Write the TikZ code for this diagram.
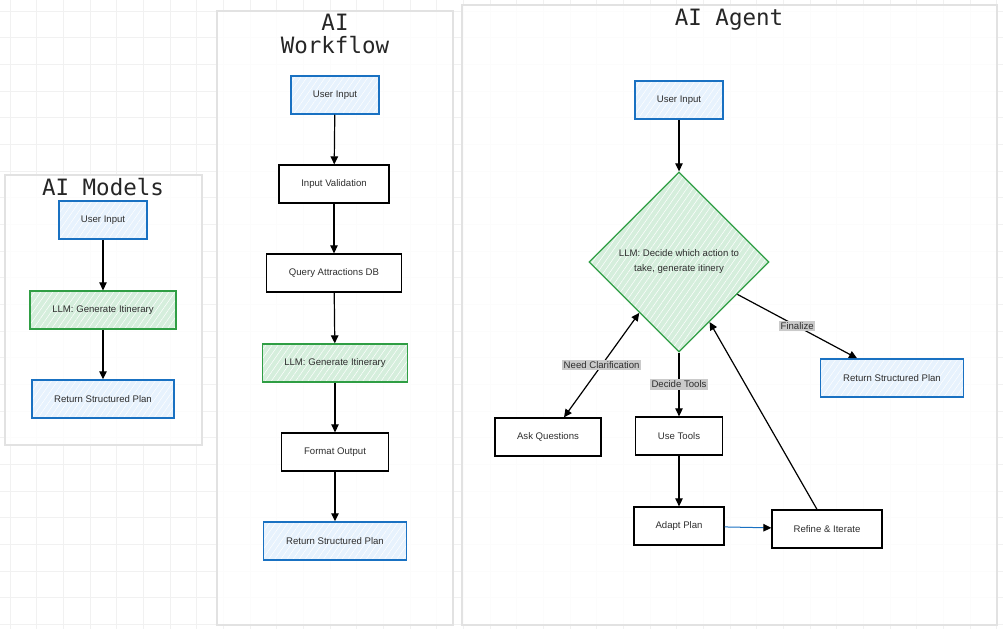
\documentclass[tikz,border=0pt]{standalone}
\usepackage{fontspec}
\setmainfont{Liberation Sans}
\newfontfamily\titlefont{DejaVu Sans Mono}
\usepackage{tikz}
\usetikzlibrary{shapes.geometric}
\usetikzlibrary{positioning}
\usetikzlibrary{arrows.meta}
\usetikzlibrary{patterns.meta}
\usepackage{xcolor}
\definecolor{boxblue}{HTML}{1971C2}
\definecolor{fillblue}{HTML}{E7F2FD}
\definecolor{boxgreen}{HTML}{2F9E44}
\definecolor{fillgreen}{HTML}{D5EEDC}
\definecolor{txtgray}{HTML}{2E2E2E}
\definecolor{panelgray}{HTML}{E2E2E2}
\definecolor{gridgray}{HTML}{F1F1F1}
\definecolor{lblgray}{HTML}{CACACA}

\begin{document}
\begin{tikzpicture}[x=1pt, y=-1pt,
    every node/.style={font=\fontsize{9.6}{11}\selectfont, text=txtgray},
    hatch/.style={preaction={fill=#1}, preaction={pattern={Lines[angle=55,distance=5pt,line width=0.5pt]}, pattern color=white}},
    plainbox/.style={draw=black, rectangle, fill=white, line width=1.3pt, minimum height=38pt, align=center},
    bluebox/.style={plainbox, fill=none, draw=boxblue, line width=1.5pt, hatch=fillblue},
    greenbox/.style={plainbox, fill=none, draw=boxgreen, hatch=fillgreen},
    panel/.style={draw=panelgray, line width=1.2pt, fill=white, fill opacity=0.85},
    title/.style={font=\titlefont\fontsize{22.5}{22.5}\selectfont, text=black!85, anchor=base},
    flow/.style={-{Triangle[length=8pt,width=7.5pt]}, line width=1.2pt},
    both/.style={{Triangle[length=8pt,width=7.5pt]}-{Triangle[length=8pt,width=7.5pt]}, line width=1.2pt},
    lbl/.style={fill=lblgray, inner sep=1.5pt}]
    \useasboundingbox (0,0) rectangle (1003,629);

    % background grid
    \foreach \i in {0,...,37}
        \draw[gridgray, line width=1pt] (10+26.67*\i,0) -- (10+26.67*\i,629);
    \foreach \j in {0,...,23}
        \draw[gridgray, line width=1pt] (0,11+26.67*\j) -- (1003,11+26.67*\j);

    % panels
    \draw[panel] (5,175) rectangle (202,445);
    \draw[panel] (217,11) rectangle (453,625);
    \draw[panel] (462,5) rectangle (997,625);

    % AI Models
    \node[title] (tmodels) at (103,195) {AI Models};
    \node[bluebox, minimum width=88pt] (m_in) at (103,220) {User Input};
    \node[greenbox, minimum width=146pt] (m_llm) at (103,310) {LLM: Generate Itinerary};
    \node[bluebox, minimum width=142pt] (m_ret) at (103,399) {Return Structured Plan};

    \draw[flow] (m_in) -- (m_llm);
    \draw[flow] (m_llm) -- (m_ret);

    % AI Workflow
    \node[title] (tflow1) at (335,30) {AI};
    \node[title] (tflow2) at (335,53) {Workflow};
    \node[bluebox, minimum width=88pt] (w_in) at (335,95) {User Input};
    \node[plainbox, minimum width=110pt] (w_val) at (334,184) {Input Validation};
    \node[plainbox, minimum width=135pt] (w_db) at (334,273) {Query Attractions DB};
    \node[greenbox, minimum width=145pt] (w_llm) at (335,363) {LLM: Generate Itinerary};
    \node[plainbox, minimum width=107pt] (w_fmt) at (335,452) {Format Output};
    \node[bluebox, minimum width=143pt] (w_ret) at (335,541) {Return Structured Plan};

    \draw[flow] (w_in) -- (w_val);
    \draw[flow] (w_val) -- (w_db);
    \draw[flow] (w_db) -- (w_llm);
    \draw[flow] (w_llm) -- (w_fmt);
    \draw[flow] (w_fmt) -- (w_ret);

    % AI Agent
    \node[title] (tagent) at (729,25) {AI Agent};
    \node[bluebox, minimum width=88pt] (a_in) at (679,100) {User Input};
    \node[draw=boxgreen, hatch=fillgreen, line width=1.3pt, diamond, minimum width=180pt, minimum height=180pt,
          inner sep=0pt, align=center, font=\fontsize{9.6}{15}\selectfont] (a_llm) at (679,262)
          {LLM: Decide which action to\\take, generate itinery};
    \node[bluebox, minimum width=143pt] (a_ret) at (892,378) {Return Structured Plan};
    \node[plainbox, minimum width=106pt] (a_ask) at (548,437) {Ask Questions};
    \node[plainbox, minimum width=87pt] (a_use) at (679,436) {Use Tools};
    \node[plainbox, minimum width=90pt] (a_adapt) at (679,526) {Adapt Plan};
    \node[plainbox, minimum width=110pt] (a_refine) at (827,529) {Refine \& Iterate};

    \draw[flow] (a_in) -- (a_llm);
    \draw[flow] (a_llm) -- node[lbl] {Decide Tools} (a_use);
    \draw[both] ([xshift=16pt]a_ask.north) -- node[lbl] {Need Clarification} (a_llm.-128);
    \draw[flow] (a_llm.-29) -- node[lbl] {Finalize} ([xshift=-35pt]a_ret.north);
    \draw[flow] (a_use) -- (a_adapt);
    \draw[line width=1pt, draw=boxblue, -{Triangle[length=8pt,width=7.5pt,color=black]}] (a_adapt) -- (a_refine);
    \draw[flow] ([xshift=-10pt]a_refine.north) -- (a_llm.-63);
\end{tikzpicture}
\end{document}
